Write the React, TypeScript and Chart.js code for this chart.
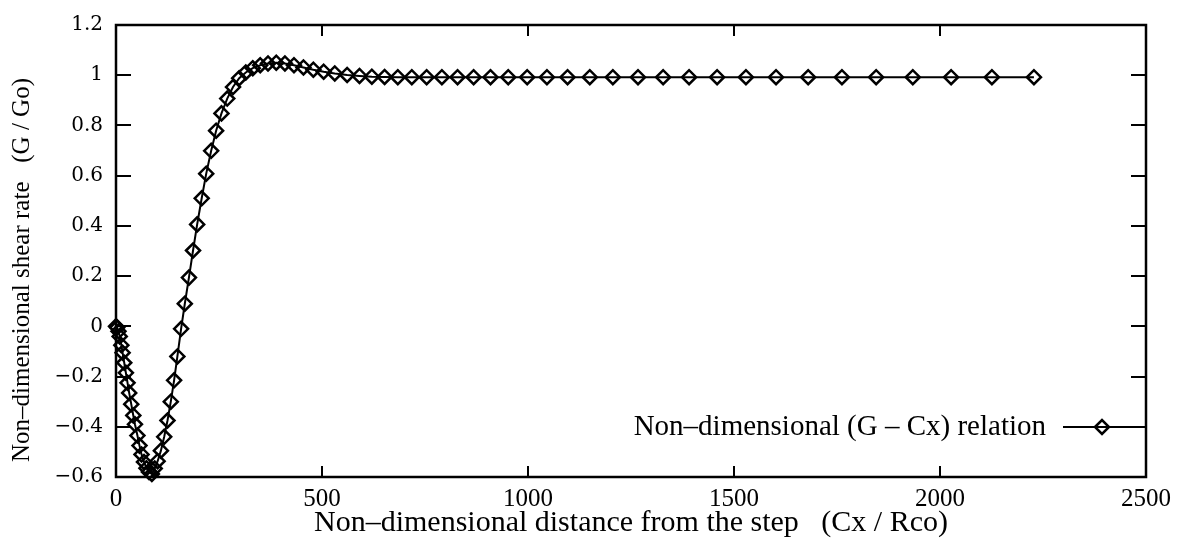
import { useEffect, useRef } from 'react';
import { Chart, registerables } from 'chart.js';

Chart.register(...registerables);

// Non-dimensional distance from the step (Cx / Rco)
const distance = [
  0, 3, 6, 9, 13, 16, 20, 24, 28, 32, 37, 42, 46, 52, 57, 62, 68, 74, 80, 87,
  94, 101, 109, 117, 125, 133, 141, 149, 158, 167, 177, 187, 197, 208, 219, 231,
  243, 256, 270, 284, 299, 315, 332, 350, 369, 389, 410, 432, 455, 479, 504, 531,
  561, 591, 621, 652, 684, 718, 754, 791, 829, 868, 909, 952, 998, 1046, 1096,
  1150, 1206, 1267, 1328, 1391, 1459, 1529, 1602, 1680, 1762, 1845, 1934, 2027,
  2126, 2228,
];

// Non-dimensional shear rate (G / Go)
const shearRate = [
  0, -0.005, -0.02, -0.04, -0.075, -0.105, -0.145, -0.185, -0.225, -0.265, -0.31,
  -0.355, -0.39, -0.435, -0.475, -0.51, -0.54, -0.565, -0.58, -0.588,
  -0.566, -0.537, -0.495, -0.44, -0.375, -0.3, -0.215, -0.12, -0.01, 0.09, 0.194,
  0.302, 0.406, 0.51, 0.608, 0.699, 0.779, 0.848, 0.907, 0.953, 0.988, 1.011,
  1.028, 1.04, 1.047, 1.05, 1.047, 1.04, 1.031, 1.022, 1.014, 1.007, 1.001, 0.997,
  0.994, 0.993, 0.992, 0.992, 0.992, 0.992, 0.992, 0.992, 0.992, 0.992, 0.992,
  0.992, 0.992, 0.992, 0.992, 0.992, 0.992, 0.992, 0.992, 0.992, 0.992, 0.992,
  0.992, 0.992, 0.992, 0.992, 0.992, 0.992,
];

const xRange = [0, 2500];
const xStep = 500;
const yRange = [-0.6, 1.2];
const yStep = 0.2;
// the key sits on the level of this y tick
const keyLevel = -0.4;

const seriesLabel = 'Non–dimensional (G – Cx) relation';
const xTitle = 'Non–dimensional distance from the step   (Cx / Rco)';
const yTitle = 'Non–dimensional shear rate   (G / Go)';

const SERIF = '"Liberation Serif", "Times New Roman", serif';
const TICK_SERIF = '"DejaVu Serif", serif';

const formatY = (value: number) => {
  const v = Math.round(value * 10) / 10;
  return v < 0 ? '−' + String(-v) : String(v);
};

const formatX = (value: number) => String(Math.round(value));

// Closed frame with inward ticks on all four sides, axis titles and the in-plot key
const framePlugin = {
  id: 'frame',
  afterDraw(chart: any) {
    const { ctx, chartArea: a, scales } = chart;
    const xs = scales.x;
    const ys = scales.y;
    ctx.save();
    ctx.strokeStyle = '#000';
    ctx.fillStyle = '#000';

    ctx.lineWidth = 2;
    ctx.beginPath();
    xs.ticks.forEach((t: any) => {
      const px = Math.round(xs.getPixelForValue(t.value));
      ctx.moveTo(px, a.bottom);
      ctx.lineTo(px, a.bottom - 11);
      ctx.moveTo(px, a.top);
      ctx.lineTo(px, a.top + 11);
    });
    ys.ticks.forEach((t: any) => {
      const py = Math.round(ys.getPixelForValue(t.value));
      ctx.moveTo(a.left, py);
      ctx.lineTo(a.left + 15, py);
      ctx.moveTo(a.right, py);
      ctx.lineTo(a.right - 15, py);
    });
    ctx.stroke();

    ctx.lineWidth = 2.5;
    ctx.strokeRect(a.left, a.top, a.right - a.left, a.bottom - a.top);

    // axis titles
    ctx.font = `30px ${SERIF}`;
    ctx.textAlign = 'center';
    ctx.textBaseline = 'middle';
    ctx.fillText(xTitle, (a.left + a.right) / 2, 523);

    ctx.save();
    ctx.translate(22, 270);
    ctx.rotate(-Math.PI / 2);
    ctx.font = `25px ${SERIF}`;
    ctx.fillText(yTitle, 0, 0);
    ctx.restore();

    // key
    const ky = Math.round(ys.getPixelForValue(keyLevel));
    const lineEnd = a.right;
    const lineStart = a.right - 83;
    const mx = a.right - 44;
    ctx.font = `29px ${SERIF}`;
    ctx.textAlign = 'right';
    ctx.fillText(seriesLabel, a.right - 100, ky);
    ctx.lineWidth = 2;
    ctx.beginPath();
    ctx.moveTo(lineStart, ky);
    ctx.lineTo(lineEnd, ky);
    ctx.stroke();
    const r = 7;
    ctx.lineWidth = 2.5;
    ctx.beginPath();
    ctx.moveTo(mx - r, ky);
    ctx.lineTo(mx, ky - r);
    ctx.lineTo(mx + r, ky);
    ctx.lineTo(mx, ky + r);
    ctx.closePath();
    ctx.stroke();
    ctx.restore();
  },
};

export default function App() {
  const canvasRef = useRef<HTMLCanvasElement | null>(null);

  useEffect(() => {
    const canvas = canvasRef.current;
    if (!canvas) return;
    const points = distance.map((x, i) => ({ x, y: shearRate[i] }));
    const chart = new Chart(canvas, {
      type: 'line',
      data: {
        datasets: [
          {
            label: seriesLabel,
            data: points,
            borderColor: '#000',
            borderWidth: 2,
            backgroundColor: 'rgba(0,0,0,0)',
            pointStyle: 'rectRot',
            pointRadius: 7,
            pointBorderWidth: 2.5,
            pointBorderColor: '#000',
            pointBackgroundColor: 'rgba(0,0,0,0)',
            tension: 0,
            fill: false,
            clip: false as any,
          },
        ],
      },
      options: {
        animation: false,
        responsive: false,
        maintainAspectRatio: false,
        layout: { padding: { left: 0, right: 37, top: 16, bottom: 0 } },
        plugins: {
          legend: { display: false },
          tooltip: { enabled: false },
        },
        scales: {
          x: {
            type: 'linear',
            min: xRange[0],
            max: xRange[1],
            ticks: {
              stepSize: xStep,
              color: '#000',
              font: { family: SERIF, size: 25 },
              padding: 7,
              maxRotation: 0,
              autoSkip: false,
              callback: (v: any) => formatX(Number(v)),
            },
            grid: { display: false, drawTicks: false },
            border: { display: false },
            afterFit(scale: any) {
              scale.height = 63;
            },
          },
          y: {
            type: 'linear',
            min: yRange[0],
            max: yRange[1],
            ticks: {
              stepSize: yStep,
              color: '#000',
              font: { family: TICK_SERIF, size: 20 },
              padding: 13,
              callback: (v: any) => formatY(Number(v)),
            },
            grid: { display: false, drawTicks: false },
            border: { display: false },
            afterFit(scale: any) {
              scale.width = 116;
            },
          },
        },
      },
      plugins: [framePlugin],
    });
    return () => chart.destroy();
  }, []);

  return (
    <div style={{ position: 'fixed', left: 0, top: 0, width: 1183, height: 540, background: '#fff' }}>
      <canvas ref={canvasRef} width={1183} height={540} style={{ display: 'block' }} />
    </div>
  );
}
